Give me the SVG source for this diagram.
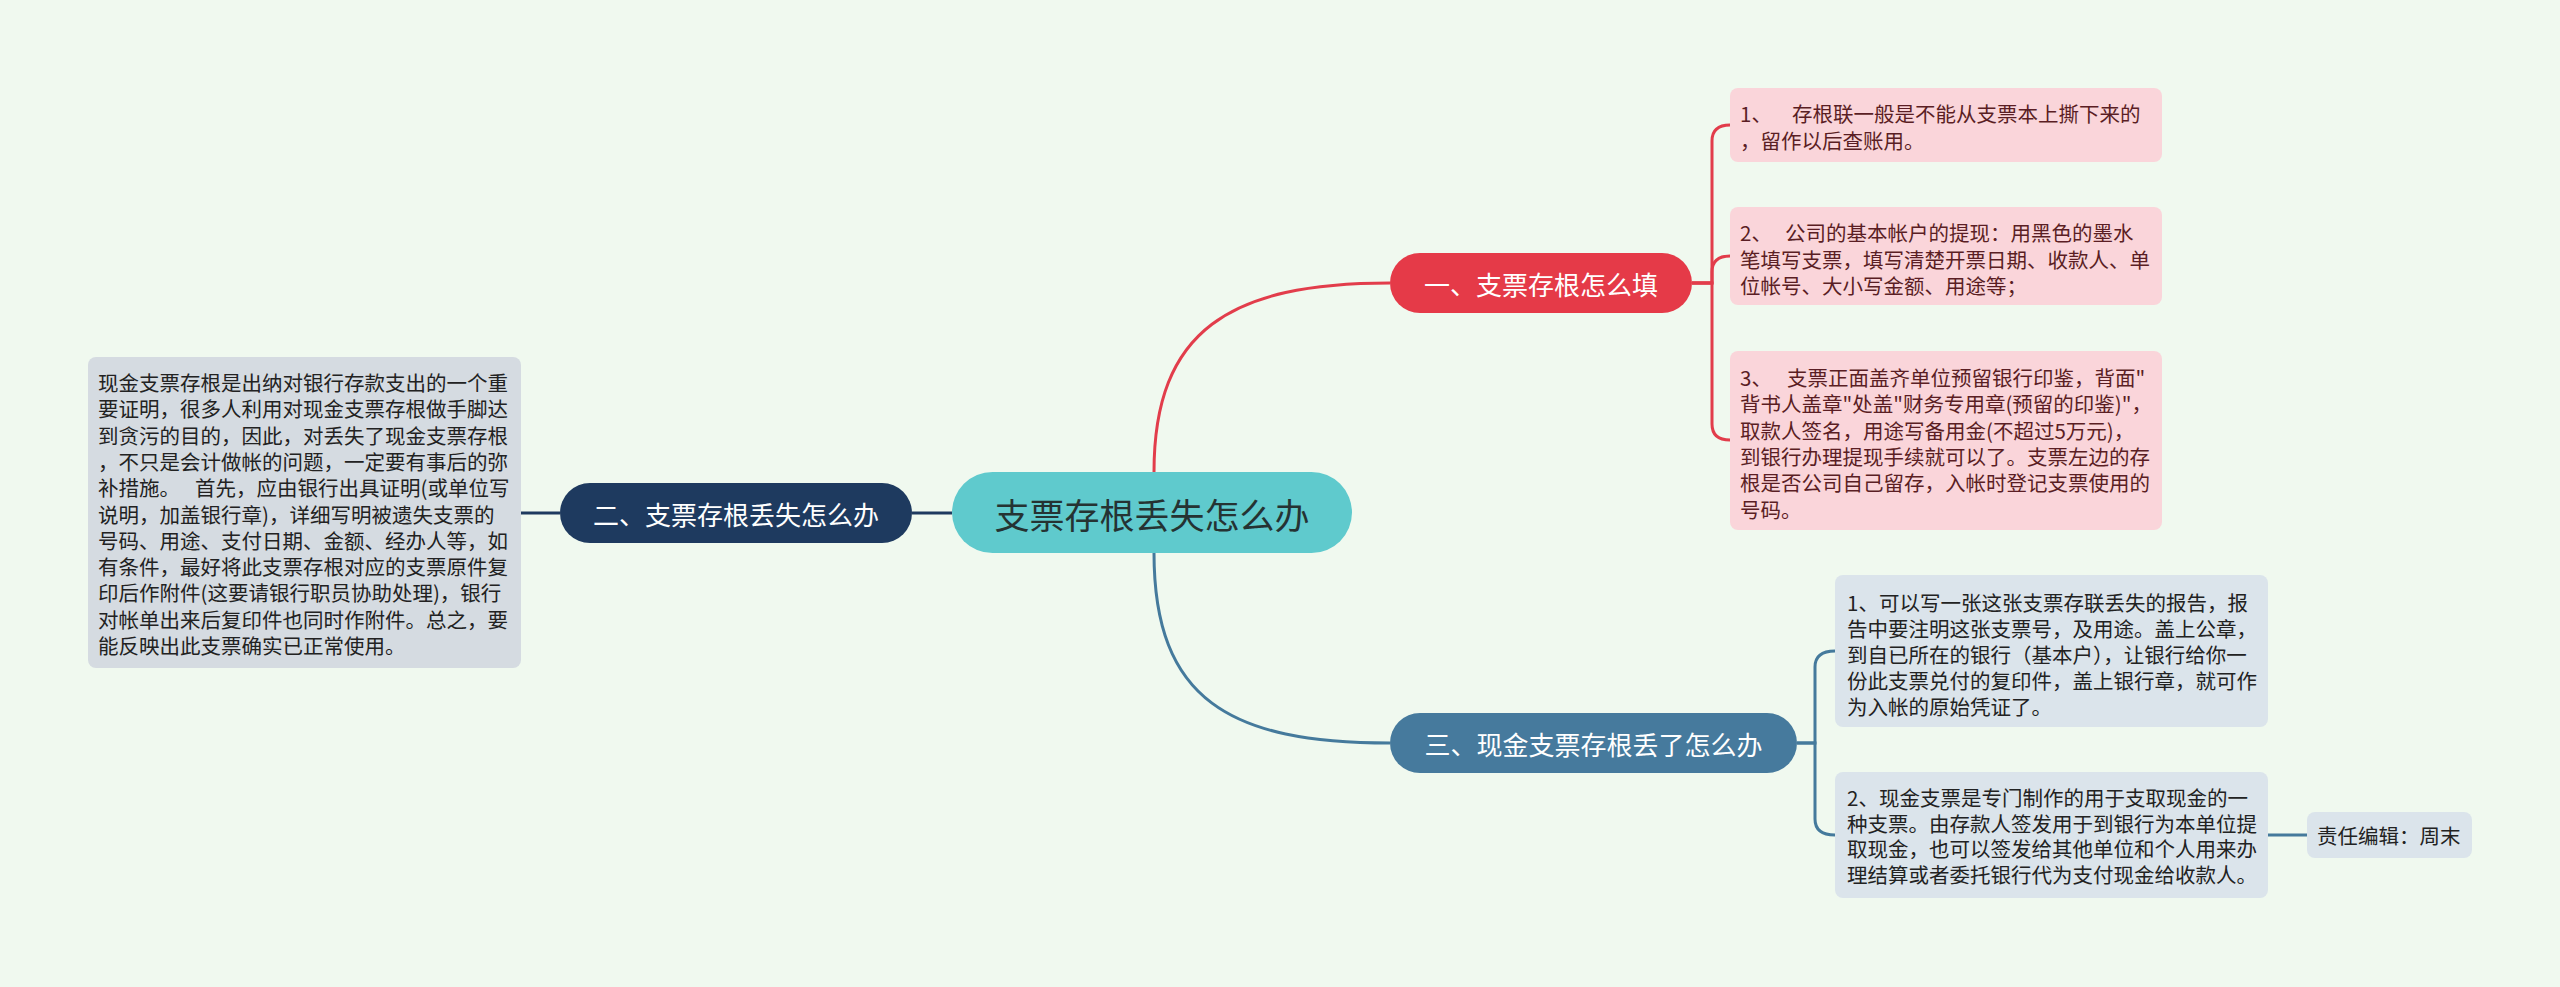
<svg xmlns="http://www.w3.org/2000/svg" width="2560" height="987" viewBox="0 0 2560 987">
<style>
text{font-family:"Noto Sans CJK SC","Noto Sans",sans-serif;dominant-baseline:central}
.t{font-size:20.5px}
.pink{fill:#fad5da}
.pt{fill:#5a1e24}
.gray{fill:#d5dbe1}
.blue{fill:#dbe4eb}
.dt{fill:#222}
.lbl{font-size:26px;fill:#fff;text-anchor:middle}
.c{fill:none;stroke-width:3}
</style>
<rect width="2560" height="987" fill="#f0f9ef"/>
<g id="connectors">
<path class="c" stroke="#e23d4b" d="M1154,472 C1154,330 1230,283 1390,283"/>
<path class="c" stroke="#457a9c" d="M1154,553 C1154,700 1230,743 1390,743"/>
<path class="c" stroke="#1e3a5f" d="M952,513 H912"/>
<path class="c" stroke="#1e3a5f" d="M560,513 H521"/>
<path class="c" stroke="#e23d4b" d="M1692,283 H1712 V141 Q1712,125 1730,125"/>
<path class="c" stroke="#e23d4b" d="M1692,283 H1712 V272 Q1712,256 1730,256"/>
<path class="c" stroke="#e23d4b" d="M1692,283 H1712 V424 Q1712,440 1730,440"/>
<path class="c" stroke="#457a9c" d="M1797,743 H1815 V667 Q1815,651 1835,651"/>
<path class="c" stroke="#457a9c" d="M1797,743 H1815 V819 Q1815,835 1835,835"/>
<path class="c" stroke="#457a9c" d="M2268,835 H2307"/>
</g>
<g id="root">
<rect x="952" y="472" width="400" height="81" rx="40.5" fill="#5fcacd"/>
<text x="1152" y="513" font-size="35" fill="#253333" text-anchor="middle">支票存根丢失怎么办</text>
</g>
<g id="n1">
<rect x="1390" y="253" width="302" height="60" rx="30" fill="#e53a48"/>
<text class="lbl" x="1541" y="283">一、支票存根怎么填</text>
</g>
<g id="n2">
<rect x="560" y="483" width="352" height="60" rx="30" fill="#1e3a5f"/>
<text class="lbl" x="736" y="513">二、支票存根丢失怎么办</text>
</g>
<g id="n3">
<rect x="1390" y="713" width="407" height="60" rx="30" fill="#467a9d"/>
<text class="lbl" x="1593.5" y="743">三、现金支票存根丢了怎么办</text>
</g>
<g id="n1a">
<rect class="pink" x="1730" y="88" width="432" height="74" rx="8"/>
<text class="t pt" y="113"><tspan x="1740">1、</tspan><tspan x="1792">存根联一般是不能从支票本上撕下来的</tspan></text>
<text class="t pt" x="1740" y="140">，留作以后查账用。</text>
</g>
<g id="n1b">
<rect class="pink" x="1730" y="207" width="432" height="98" rx="8"/>
<text class="t pt" y="232"><tspan x="1740">2、</tspan><tspan x="1785">公司的基本帐户的提现：用黑色的墨水</tspan></text>
<text class="t pt" x="1740" y="258.5">笔填写支票，填写清楚开票日期、收款人、单</text>
<text class="t pt" x="1740" y="285">位帐号、大小写金额、用途等；</text>
</g>
<g id="n1c">
<rect class="pink" x="1730" y="351" width="432" height="179" rx="8"/>
<text class="t pt" y="377"><tspan x="1740">3、</tspan><tspan x="1787">支票正面盖齐单位预留银行印鉴，背面"</tspan></text>
<text class="t pt" x="1740" y="403.3">背书人盖章"处盖"财务专用章(预留的印鉴)"，</text>
<text class="t pt" x="1740" y="429.6">取款人签名，用途写备用金(不超过5万元)，</text>
<text class="t pt" x="1740" y="455.9">到银行办理提现手续就可以了。支票左边的存</text>
<text class="t pt" x="1740" y="482.2">根是否公司自己留存，入帐时登记支票使用的</text>
<text class="t pt" x="1740" y="508.5">号码。</text>
</g>
<g id="n2a">
<rect class="gray" x="88" y="357" width="433" height="311" rx="8"/>
<text class="t dt" x="98" y="382">现金支票存根是出纳对银行存款支出的一个重</text>
<text class="t dt" x="98" y="408.3">要证明，很多人利用对现金支票存根做手脚达</text>
<text class="t dt" x="98" y="434.6">到贪污的目的，因此，对丢失了现金支票存根</text>
<text class="t dt" x="98" y="460.9">，不只是会计做帐的问题，一定要有事后的弥</text>
<text class="t dt" y="487.2"><tspan x="98">补措施。</tspan><tspan x="195">首先，应由银行出具证明(或单位写</tspan></text>
<text class="t dt" x="98" y="513.5">说明，加盖银行章)，详细写明被遗失支票的</text>
<text class="t dt" x="98" y="539.8">号码、用途、支付日期、金额、经办人等，如</text>
<text class="t dt" x="98" y="566.1">有条件，最好将此支票存根对应的支票原件复</text>
<text class="t dt" x="98" y="592.4">印后作附件(这要请银行职员协助处理)，银行</text>
<text class="t dt" x="98" y="618.7">对帐单出来后复印件也同时作附件。总之，要</text>
<text class="t dt" x="98" y="645">能反映出此支票确实已正常使用。</text>
</g>
<g id="n3a">
<rect class="blue" x="1835" y="575" width="433" height="152" rx="8"/>
<text class="t dt" x="1847" y="602">1、可以写一张这张支票存联丢失的报告，报</text>
<text class="t dt" x="1847" y="628">告中要注明这张支票号，及用途。盖上公章，</text>
<text class="t dt" x="1847" y="654">到自已所在的银行（基本户），让银行给你一</text>
<text class="t dt" x="1847" y="680">份此支票兑付的复印件，盖上银行章，就可作</text>
<text class="t dt" x="1847" y="706">为入帐的原始凭证了。</text>
</g>
<g id="n3b">
<rect class="blue" x="1835" y="772" width="433" height="126" rx="8"/>
<text class="t dt" x="1847" y="797">2、现金支票是专门制作的用于支取现金的一</text>
<text class="t dt" x="1847" y="822.5">种支票。由存款人签发用于到银行为本单位提</text>
<text class="t dt" x="1847" y="848">取现金，也可以签发给其他单位和个人用来办</text>
<text class="t dt" x="1847" y="873.5">理结算或者委托银行代为支付现金给收款人。</text>
</g>
<g id="n3b1">
<rect class="blue" x="2307" y="812" width="165" height="46" rx="8"/>
<text class="t dt" x="2317" y="835">责任编辑：周末</text>
</g>
</svg>
